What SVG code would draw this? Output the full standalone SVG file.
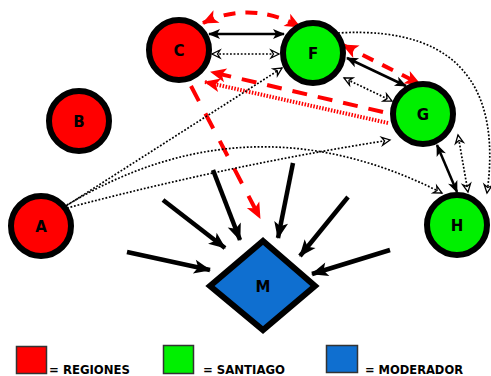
<svg xmlns="http://www.w3.org/2000/svg" width="491" height="376" viewBox="0 0 491 376">
<style>
.node{stroke:#000;stroke-width:6}
.red{fill:#ff0000}
.green{fill:#00f000}
.blue{fill:#0f6fd0}
.lbl{font-family:"DejaVu Sans",Verdana,sans-serif;font-weight:bold;font-size:15px;text-anchor:middle;fill:#000}
.leg{font-family:"DejaVu Sans",Verdana,sans-serif;font-weight:bold;font-size:13px;fill:#000}
.sq{stroke:#333;stroke-width:1.5}
.solid{fill:none;stroke:#000;stroke-width:2.5}
.dot{fill:none;stroke:#000;stroke-width:1.7;stroke-dasharray:1.8 1.8}
.big{fill:none;stroke:#000;stroke-width:4.5}
.rdash{fill:none;stroke:#ff0000;stroke-width:4;stroke-dasharray:15 11}
.rhatch{fill:none;stroke:#ff0000;stroke-width:4;stroke-dasharray:1.5 1.5}
</style>
<defs>
<marker id="sh" markerUnits="userSpaceOnUse" markerWidth="13" markerHeight="11" refX="11" refY="5" orient="auto-start-reverse" overflow="visible">
<path d="M0,0 L12,5 L0,10 L3,5 z" fill="#000"/>
</marker>
<marker id="oh" markerUnits="userSpaceOnUse" markerWidth="11" markerHeight="10" refX="9" refY="5" orient="auto-start-reverse" overflow="visible">
<path d="M1,1 L9,5 L1,9 L3.5,5 z" fill="#fff" stroke="#000" stroke-width="1.3"/>
</marker>
<marker id="rh" markerUnits="userSpaceOnUse" markerWidth="17" markerHeight="14" refX="15" refY="7" orient="auto-start-reverse" overflow="visible">
<path d="M0,0 L16,7 L0,14 L4,7 z" fill="#ff0000"/>
</marker>
<marker id="bh" markerUnits="userSpaceOnUse" markerWidth="18" markerHeight="14" refX="16" refY="7" orient="auto" overflow="visible">
<path d="M0,0 L17,7 L0,14 L4,7 z" fill="#000"/>
</marker>
</defs>

<g id="connectors">
<!-- C <-> F -->
<path class="solid" d="M209,34 L284,34" marker-start="url(#sh)" marker-end="url(#sh)"/>
<path class="dot" d="M212,54 L279,54" marker-start="url(#oh)" marker-end="url(#oh)"/>
<path class="rdash" style="stroke-dasharray:12 10" d="M203,23 Q251,0 300,27" marker-start="url(#rh)" marker-end="url(#rh)"/>
<!-- F <-> G -->
<path class="solid" d="M347,58 L406,86" marker-start="url(#sh)" marker-end="url(#sh)"/>
<path class="dot" d="M344,78 L392,101" marker-start="url(#oh)" marker-end="url(#oh)"/>
<path class="rdash" style="stroke-dasharray:12 10" d="M343,45 L420,84" marker-start="url(#rh)" marker-end="url(#rh)"/>
<!-- G -> C -->
<path class="rdash" d="M383,112 L211,72" marker-end="url(#rh)"/>
<path class="rhatch" d="M388,123 L205,82" marker-end="url(#rh)"/>
<!-- C -> M -->
<path class="rdash" style="stroke-dasharray:17 14" d="M191,86 L260,218" marker-end="url(#rh)"/>
<!-- A -> F, G, H -->
<path class="dot" d="M66,206 L282,68" marker-end="url(#oh)"/>
<path class="dot" d="M67,208 Q230,165 390,140" marker-end="url(#oh)"/>
<path class="dot" d="M67,205 Q250,95 442,193" marker-end="url(#oh)"/>
<!-- F -> H arc -->
<path class="dot" d="M338,33 C470,25 500,100 487,193" marker-end="url(#oh)"/>
<!-- G <-> H -->
<path class="solid" d="M437,145 L457,192" marker-start="url(#sh)" marker-end="url(#sh)"/>
<path class="dot" d="M458,135 L468,192" marker-start="url(#oh)" marker-end="url(#oh)"/>
<!-- arrows into M -->
<path class="big" d="M127,252 L210,270" marker-end="url(#bh)"/>
<path class="big" d="M163,200 L225,248" marker-end="url(#bh)"/>
<path class="big" d="M213,170 L240,240" marker-end="url(#bh)"/>
<path class="big" d="M293,163 L278,238" marker-end="url(#bh)"/>
<path class="big" d="M348,197 L300,256" marker-end="url(#bh)"/>
<path class="big" d="M390,250 L312,274" marker-end="url(#bh)"/>
</g>

<g id="C"><circle class="node red" cx="179" cy="50" r="30"/><text class="lbl" x="179" y="56">C</text></g>
<g id="F"><circle class="node green" cx="313" cy="53" r="30"/><text class="lbl" x="313" y="59">F</text></g>
<g id="G"><circle class="node green" cx="423" cy="114" r="30"/><text class="lbl" x="423" y="120">G</text></g>
<g id="B"><circle class="node red" cx="79" cy="121" r="30"/><text class="lbl" x="79" y="127">B</text></g>
<g id="A"><circle class="node red" cx="41" cy="226" r="30"/><text class="lbl" x="41" y="232">A</text></g>
<g id="H"><circle class="node green" cx="457" cy="225" r="30"/><text class="lbl" x="457" y="231">H</text></g>
<g id="M"><polygon class="node blue" points="263,241 315,286 263,330 210,286" style="stroke-width:6"/><text class="lbl" x="263" y="292">M</text></g>

<g id="legend">
<rect class="sq red" x="16.5" y="346.5" width="30" height="27"/>
<text class="leg" x="49" y="374" textLength="81" lengthAdjust="spacingAndGlyphs">= REGIONES</text>
<rect class="sq green" x="163.5" y="345.5" width="30" height="28"/>
<text class="leg" x="203" y="374" textLength="82" lengthAdjust="spacingAndGlyphs">= SANTIAGO</text>
<rect class="sq blue" x="326.5" y="345.5" width="31" height="27"/>
<text class="leg" x="365" y="374" textLength="98" lengthAdjust="spacingAndGlyphs">= MODERADOR</text>
</g>
</svg>
